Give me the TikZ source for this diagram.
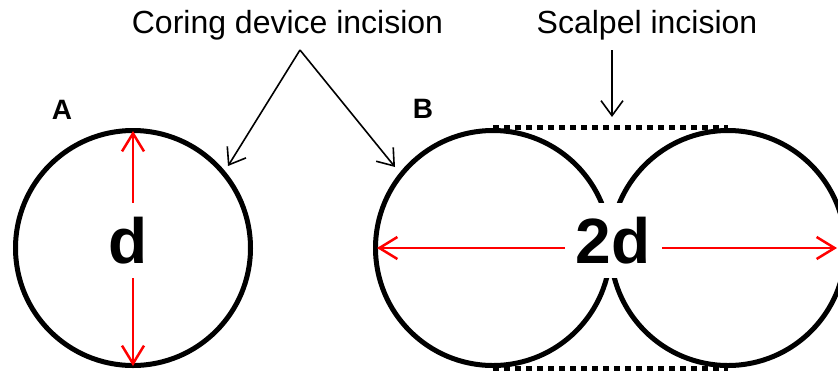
\documentclass[tikz,border=0pt]{standalone}
\usepackage{fontspec}
\setmainfont{Liberation Sans}
\usetikzlibrary{arrows.meta}
\begin{document}
\begin{tikzpicture}[x=1pt,y=-1pt,
  ring/.style={line width=5pt, draw=black},
  scalpel/.style={line width=5pt, dash pattern=on 5.5pt off 5.5pt},
  dimline/.style={draw=red, line width=2.5pt, {Straight Barb[length=18pt,width=22pt]}-{Straight Barb[length=18pt,width=22pt]}},
  callout/.style={draw=black, line width=1.6pt, -{Straight Barb[length=15pt,width=22pt]}},
  dimlabel/.style={fill=white, inner sep=0pt, minimum height=75pt, font=\fontsize{64}{64}\selectfont\bfseries},
  caption/.style={anchor=base, font=\fontsize{32}{32}\selectfont},
  panel/.style={font=\fontsize{28}{28}\selectfont\bfseries}]
\useasboundingbox[fill=white] (0,0) rectangle (838,373);
% coordinates
\coordinate (cA) at (133,248);
\coordinate (cB1) at (493,248);
\coordinate (cB2) at (728,248);
% scalpel incision dotted lines
\draw[scalpel] (493,127) coordinate (t1) -- (728,127) coordinate (t2);
\draw[scalpel] (493,368) coordinate (b1) -- (728,368) coordinate (b2);
% circles
\draw[ring] (cA) circle[radius=117.5];
\draw[ring] (cB1) circle[radius=117.5];
\draw[ring] (cB2) circle[radius=117.5];
% dimension arrows
\coordinate (aTop) at (133,131);
\coordinate (aBot) at (133,366);
\draw[dimline] (aTop) -- (aBot);
\coordinate (bL) at (377,248);
\coordinate (bR) at (837,248);
\draw[dimline] (bL) -- (bR);
\node[dimlabel, minimum width=40pt] (d) at (128.5,240.5) {d};
\node[dimlabel, minimum width=97pt] (d2) at (613,240.5) {2d};
% captions
\node[caption] (coring) at (287.5,33) {Coring device incision};
\node[caption] (scalpel) at (647,33) {Scalpel incision};
\coordinate (apex) at (300,50);
\coordinate (hitA) at (228,166);
\coordinate (hitB) at (395,167);
\draw[callout] (apex) -- (hitA);
\draw[callout] (apex) -- (hitB);
\coordinate (sTop) at (612,50);
\coordinate (sHit) at (612,117);
\draw[callout] (sTop) -- (sHit);
% panel labels
\node[panel] (A) at (62,110) {A};
\node[panel] (B) at (423,109) {B};
\end{tikzpicture}
\end{document}
